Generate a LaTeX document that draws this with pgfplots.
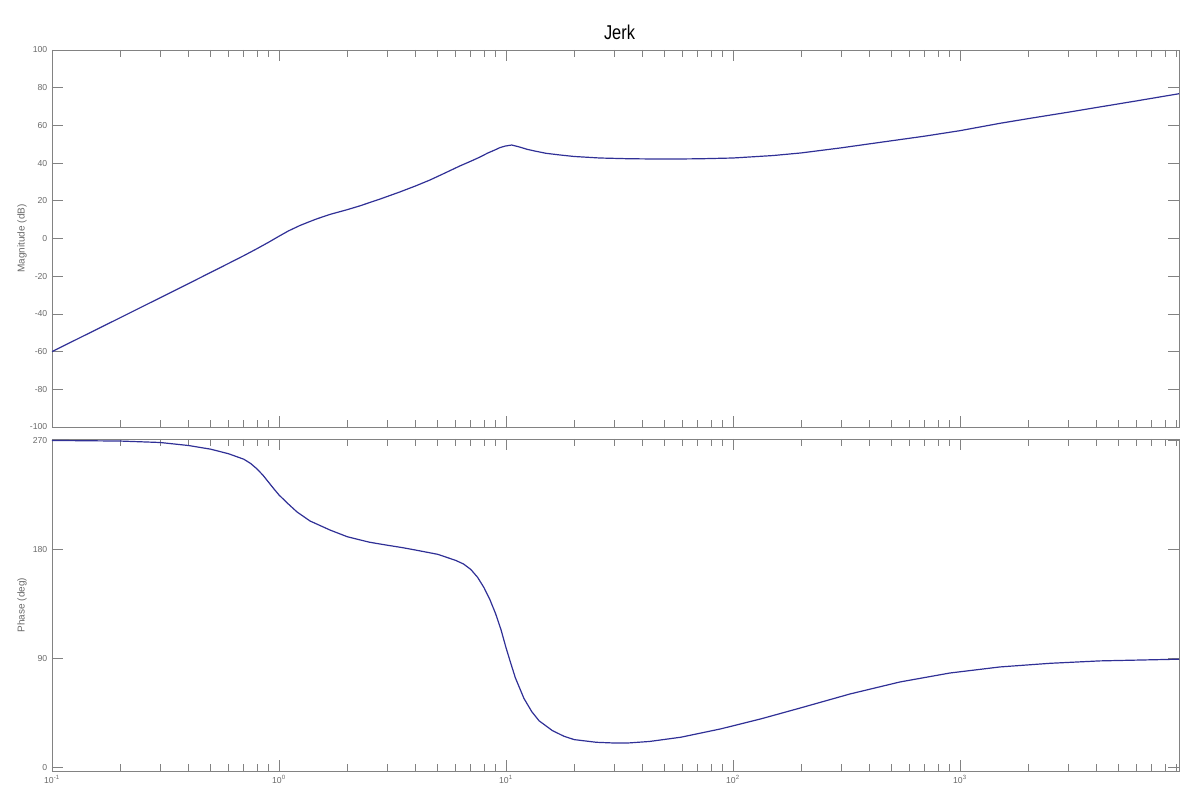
\documentclass[border=0pt]{standalone}
\usepackage{fontspec}
\setmainfont{Liberation Sans}
\usepackage{pgfplots}
\pgfplotsset{compat=1.18}
\definecolor{axgray}{RGB}{130,130,130}
\definecolor{lblgray}{RGB}{105,105,105}
\definecolor{curve}{RGB}{48,48,150}
\pgfplotsset{
  every axis/.append style={
    xmode=log, scale only axis, width=845.25pt,
    xmin=0.1, xmax=9226,
    axis line style={draw=axgray, line width=0.6pt},
    every tick/.style={draw=axgray, line width=0.5pt},
    major tick length=8.5pt, minor tick length=5pt,
    tick align=inside,
    xtick={0.1,1,10,100,1000},
    minor xtick={0.2,0.3,0.4,0.5,0.6,0.7,0.8,0.9,2,3,4,5,6,7,8,9,20,30,40,50,60,70,80,90,200,300,400,500,600,700,800,900,2000,3000,4000,5000,6000,7000,8000,9000},
    tick label style={font=\fontsize{6.5}{7}\selectfont, text=lblgray},
    /pgf/number format/assume math mode=true,
    ylabel style={at={(axis description cs:-0.0266,0.5)}, anchor=center, font=\fontsize{7.5}{8}\selectfont, text=lblgray},
    anchor=south west,
  },
  every axis title/.style={at={(axis description cs:0.5,1)}, anchor=center, yshift=13pt, xshift=3pt, font=\fontsize{15}{16}\selectfont},
}
\begin{document}
\begin{tikzpicture}
\begin{axis}[
  at={(39pt,273.75pt)}, height=282.75pt,
  ymin=-100, ymax=100, ytick={-100,-80,-60,-40,-20,0,20,40,60,80,100},
  xticklabels={},
  ylabel={Magnitude (dB)},
  title={\scalebox{0.82}[1]{Jerk}},
]
\addplot[curve, line width=0.9pt] coordinates {
(0.1,-60) (0.2,-42) (0.3,-31.4) (0.4,-23.9) (0.5,-18) (0.6,-13.2) (0.7,-9.1) (0.8,-5.4) (0.9,-2.0) (1.0,1.2) (1.1,4.0)
(1.237,6.9) (1.45,10.2) (1.68,12.8) (2.0,15.3) (2.27,17.3) (2.8,21) (3.41,24.7) (4.0,27.9) (4.62,31) (5.4,34.8) (6.27,38.5)
(7.0,41) (7.68,43.2) (8.3,45.3) (8.95,47) (9.4,48.2) (9.9,49) (10.6,49.6) (11.5,48.5) (12.4,47.3) (13.4,46.4) (15,45.2) (17.3,44.3)
(20,43.5) (25.9,42.7) (35,42.3) (43,42.2) (60,42.2) (72,42.3) (100,42.7) (150,44) (200,45.4) (300,48.1) (445,51)
(700,54.3) (1000,57.2) (1500,61.1) (2000,63.6) (3000,67) (4000,69.5) (6000,73) (9226,76.8)
};
\end{axis}
\begin{axis}[
  at={(39pt,15.75pt)}, height=249pt,
  ymin=-2.9, ymax=271.2, ytick={0,90,180,270},
  xticklabels={10\textsuperscript{-1},10\textsuperscript{0},10\textsuperscript{1},10\textsuperscript{2},10\textsuperscript{3}},
  ylabel={Phase (deg)},
]
\addplot[curve, line width=0.9pt] coordinates {
(0.1,270) (0.2,269.5) (0.3,268.3) (0.4,265.8) (0.5,262.8) (0.6,259) (0.7,254.5) (0.75,251) (0.8,246.5) (0.85,241.3) (0.9,235.5) (0.95,230) (1.0,225)
(1.1,217.5) (1.2,211) (1.37,203.5) (1.68,196) (2,190.5) (2.5,186) (3,183.5) (3.5,181.5) (4,179.5) (5,176) (6,171) (6.5,168) (7,163.5)
(7.5,157) (8,148.5) (8.5,138.5) (9,127) (9.5,114) (10,99) (10.5,86) (11,74) (12,57) (13,46) (14,38.5) (16,30.5) (18,25.8)
(20,23) (25,20.8) (30,20.2) (35,20.3) (43,21.5) (59,25) (88,31.8) (132,40) (197,49) (328,60.7) (544,70.6) (903,78)
(1500,83) (2490,86) (4140,88) (9226,89.4)
};
\end{axis}
\pgfresetboundingbox
\path[use as bounding box] (0,0) rectangle (886.5pt,594pt);
\end{tikzpicture}
\end{document}
